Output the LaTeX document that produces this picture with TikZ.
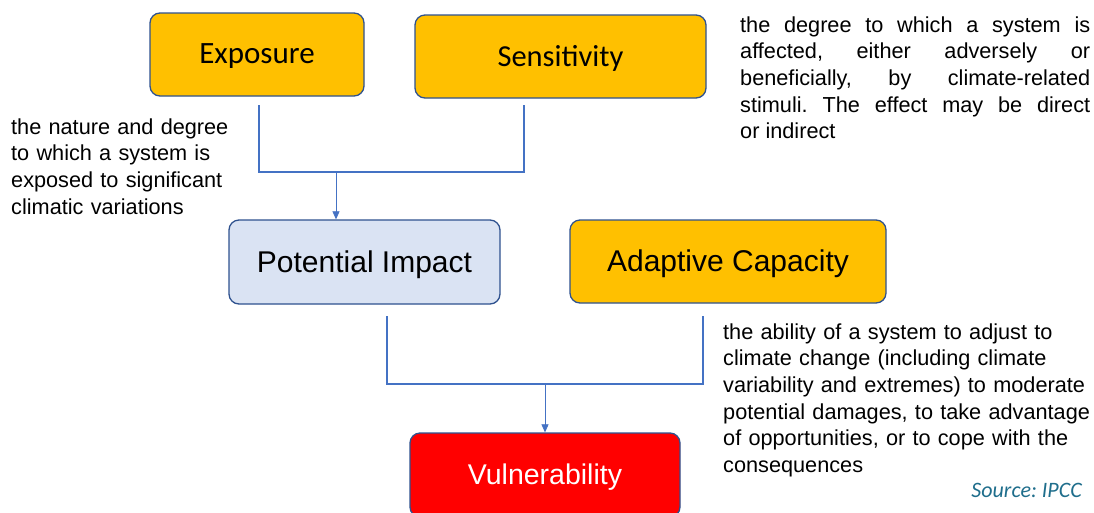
\documentclass[tikz,border=0pt]{standalone}
\usepackage{fontspec}
\setmainfont{Liberation Sans}
\newfontfamily\calibrifont{Carlito}
\usetikzlibrary{arrows.meta}
\definecolor{boxorange}{HTML}{FFC000}
\definecolor{boxblue}{HTML}{DAE3F3}
\definecolor{boxred}{HTML}{FF0000}
\definecolor{boxline}{HTML}{2F528F}
\definecolor{linkblue}{HTML}{4472C4}
\definecolor{sourceteal}{HTML}{1F6E8C}
\frenchspacing
\hyphenpenalty=10000

\begin{document}
\begin{tikzpicture}[x=1pt, y=-1pt,
    factorbox/.style={rectangle, rounded corners=10pt, draw=boxline, line width=1.3pt, minimum height=83pt, inner sep=0pt, text depth=1pt, font=\fontsize{30}{36}\selectfont},
    desctext/.style={anchor=base west, inner sep=0pt, font=\fontsize{21.7}{26.7}\selectfont},
    link/.style={draw=linkblue, line width=1.3pt},
    arrowlink/.style={draw=linkblue, line width=0.7pt, -{Triangle[length=8pt, width=7pt]}}]
    \path[use as bounding box, fill=white] (0,0) rectangle (1094,512);

    %Nodes
    \node[factorbox, fill=boxorange, minimum width=214pt, font=\calibrifont\fontsize{31}{36}\selectfont] (expo) at (257,54.5) {Exposure};
    \node[factorbox, fill=boxorange, minimum width=291pt, font=\calibrifont\fontsize{30.5}{36}\selectfont] (sens) at (560.5,56.5) {Sensitivity};
    \node[factorbox, fill=boxblue, minimum width=271pt, minimum height=84pt] (pot) at (364.5,262) {Potential Impact};
    \node[factorbox, fill=boxorange, minimum width=316pt] (adapt) at (728,261.5) {Adaptive Capacity};
    \node[factorbox, fill=boxred, minimum width=270pt, minimum height=84pt, text=white, font=\fontsize{28.5}{36}\selectfont] (vuln) at (545,475) {Vulnerability};

    %Texts
    \node[desctext, text width=240pt, align=left] (expodesc) at (11,134)
        {the nature and degree\\to which a system is\\exposed to significant\\climatic variations};
    \node[desctext, text width=350pt, align=justify] (sensdesc) at (740,32)
        {the degree to which a system is\linebreak affected, either adversely or\linebreak beneficially, by climate-related\linebreak stimuli. The effect may be direct\linebreak or indirect};
    \node[desctext, text width=420pt, align=left] (adaptdesc) at (723,339)
        {the ability of a system to adjust to\\climate change (including climate\\variability and extremes) to moderate\\potential damages, to take advantage\\of opportunities, or to cope with the\\consequences};
    \node[anchor=base east, inner sep=0pt, text=sourceteal, font=\calibrifont\itshape\fontsize{22}{26}\selectfont] (source) at (1082,497) {Source: IPCC};

    %Lines
    \coordinate (expoend) at (259,105);
    \coordinate (sensend) at (524,105);
    \coordinate (join1) at (336,172);
    \coordinate (potend) at (387,316);
    \coordinate (adaptend) at (703,316);
    \coordinate (join2) at (545,384);
    \draw[link] (expoend) |- (join1) -| (sensend);
    \draw[arrowlink] (join1) -- (join1 |- pot.north);
    \draw[link] (potend) |- (join2) -| (adaptend);
    \draw[arrowlink] (join2) -- (join2 |- vuln.north);
\end{tikzpicture}
\end{document}
